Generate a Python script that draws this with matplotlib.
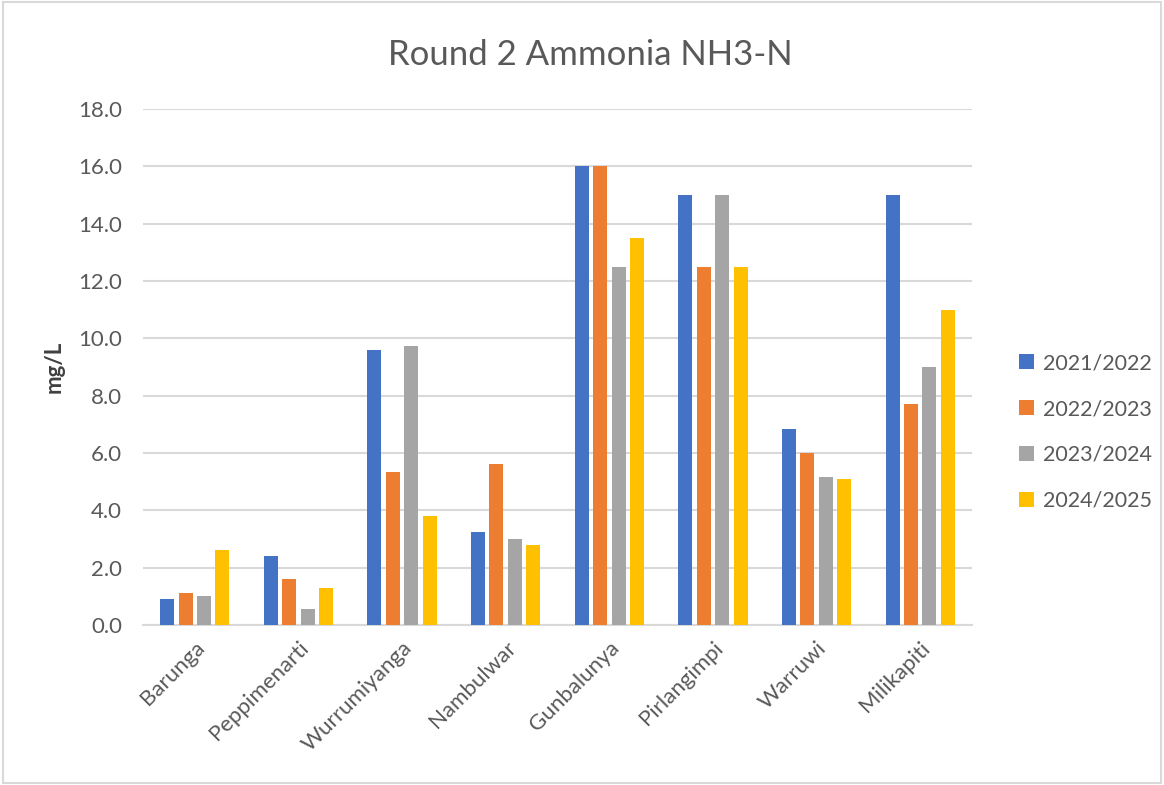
import matplotlib
matplotlib.use("Agg")
import matplotlib.pyplot as plt
import numpy as np
from matplotlib.patches import Rectangle

categories = ["Barunga", "Peppimenarti", "Wurrumiyanga", "Nambulwar",
              "Gunbalunya", "Pirlangimpi", "Warruwi", "Milikapiti"]
series_names = ["2021/2022", "2022/2023", "2023/2024", "2024/2025"]
s2021 = [0.9, 2.4, 9.6, 3.25, 16.0, 15.0, 6.85, 15.0]
s2022 = [1.1, 1.6, 5.35, 5.6, 16.0, 12.5, 6.0, 7.7]
s2023 = [1.0, 0.55, 9.75, 3.0, 12.5, 15.0, 5.15, 9.0]
s2024 = [2.6, 1.3, 3.8, 2.8, 13.5, 12.5, 5.1, 11.0]
yticks = [0, 2, 4, 6, 8, 10, 12, 14, 16, 18]
colors = ["#4472C4", "#ED7D31", "#A5A5A5", "#FFC000"]

plt.rcParams['font.family'] = ['Lato', 'DejaVu Sans']
txt = "#595959"

fig = plt.figure(figsize=(11.64, 7.85), dpi=100)
ax = fig.add_axes([143/1164, 1 - 625/785, (972-143)/1164, (625-109)/785])

x = np.arange(len(categories))
bw = 0.135
stride = 0.178
for i, (vals, c, name) in enumerate(zip([s2021, s2022, s2023, s2024], colors, series_names)):
    ax.bar(x + (i - 1.5) * stride, vals, width=bw, color=c, label=name, zorder=3)

ax.set_xlim(-0.5, len(categories) - 0.5)
ax.set_ylim(0, 18)
ax.set_yticks(yticks)
ax.set_yticklabels([f"{v:.1f}" for v in yticks], fontsize=16, color=txt)
ax.set_xticks(x)
ax.set_xticklabels(categories, rotation=45, ha='right', rotation_mode='anchor',
                   fontsize=16, color=txt)
ax.tick_params(axis='both', length=0)
ax.tick_params(axis='y', pad=15)
ax.tick_params(axis='x', pad=9)
ax.grid(axis='y', color='#d9d9d9', linewidth=1.5, zorder=0)
for s in ['top', 'right', 'left']:
    ax.spines[s].set_visible(False)
ax.spines['bottom'].set_color('#d9d9d9')
ax.spines['bottom'].set_linewidth(1.5)

ax.set_ylabel("mg/L", fontsize=16, fontweight='bold', color='#404040', labelpad=10)

fig.text(590/1164, 1 - 55/785, "Round 2 Ammonia NH3-N", fontsize=25, color=txt,
         ha='center', va='center')

leg = fig.legend(loc='center left', bbox_to_anchor=(1000/1164, 1 - 432/785),
                 frameon=False, fontsize=15.5, labelcolor=txt,
                 handlelength=0.7, handleheight=0.7, handletextpad=0.4,
                 labelspacing=1.2)

fig.patches.append(Rectangle((0.003, 0.003), 0.994, 0.994, transform=fig.transFigure,
                             fill=False, edgecolor='#d9d9d9', linewidth=1.5))

fig.savefig("out.png", dpi=100)
